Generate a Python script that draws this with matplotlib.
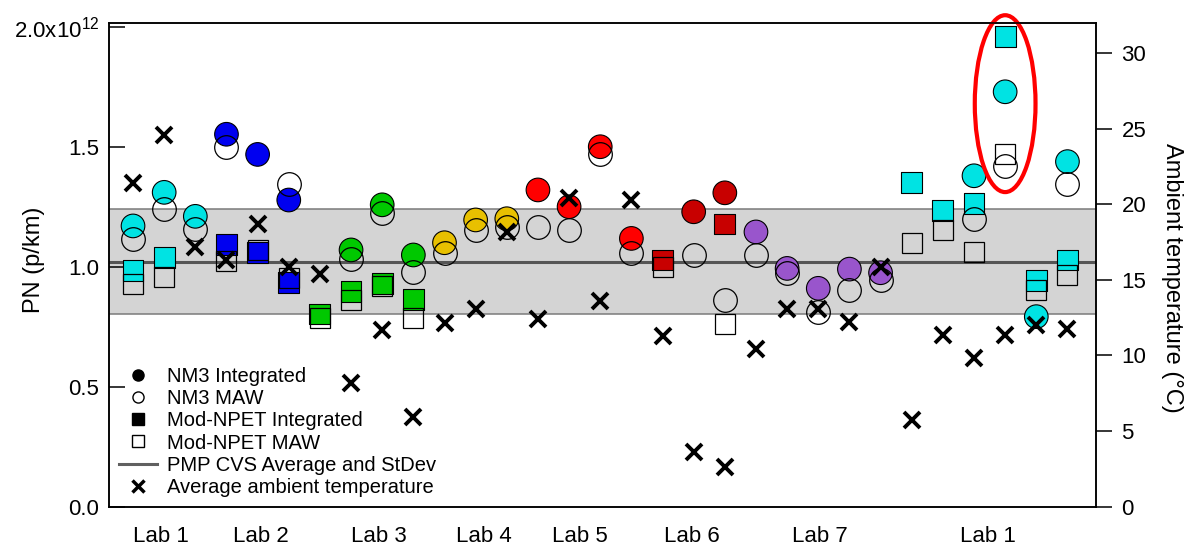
import numpy as np
import matplotlib
matplotlib.use('Agg')
import matplotlib.pyplot as plt
from matplotlib.lines import Line2D
from matplotlib.patches import Ellipse

plt.rcParams['font.family'] = ['Liberation Sans', 'DejaVu Sans']
plt.rcParams['mathtext.fontset'] = 'custom'
plt.rcParams['mathtext.rm'] = 'Liberation Sans'
plt.rcParams['mathtext.it'] = 'Liberation Sans:italic'
plt.rcParams['mathtext.bf'] = 'Liberation Sans:bold'

nan = np.nan

# ---------------- data (PN in units of 1e12 p/km, temperature in degC) ----------------
run_lab = (['Lab 1'] * 3 + ['Lab 2'] * 3 + ['Lab 3'] * 4 + ['Lab 4'] * 3 +
           ['Lab 5'] * 4 + ['Lab 6'] * 3 + ['Lab 7'] * 5 + ['Lab 1'] * 6)

nm3_integrated = [1.17, 1.31, 1.21, 1.552, 1.468, 1.278, nan, 1.07, 1.258, 1.049,
                  1.10, 1.195, 1.20, 1.32, 1.25, 1.50, 1.118, nan, 1.229, 1.308,
                  1.145, 0.993, 0.91, 0.99, 0.975, nan, nan, 1.379, 1.729, 0.792, 1.438]
nm3_maw = [1.115, 1.239, 1.156, 1.50, nan, 1.343, nan, 1.031, 1.222, 0.979,
           1.056, 1.153, 1.167, 1.167, 1.153, 1.47, 1.056, nan, 1.049, 0.861,
           1.049, 0.972, 0.8125, 0.905, 0.945, nan, nan, 1.20, 1.421, nan, 1.343]
modnpet_integrated = [0.986, 1.038, nan, 1.093, 1.058, 0.934, 0.803, 0.897, 0.931, 0.864,
                      nan, nan, nan, nan, nan, nan, nan, 1.028, nan, 1.178,
                      nan, nan, nan, nan, nan, 1.35, 1.236, 1.264, 1.958, 0.944, 1.028]
modnpet_maw = [0.927, 0.958, nan, 1.025, 1.07, 0.953, 0.786, 0.862, 0.918, 0.786,
               nan, nan, nan, nan, nan, nan, nan, 0.999, nan, 0.76,
               nan, nan, nan, nan, nan, 1.097, 1.153, 1.062, 1.47, 0.903, 0.965]
ambient_temp = [21.4, 24.57, 17.18, 16.3, 18.7, 15.86, 15.4, 8.15, 11.68, 5.95,
                12.12, 13.1, 18.17, 12.38, 20.38, 13.6, 20.27, 11.28, 3.63, 2.64,
                10.4, 13.1, 13.1, 12.2, 15.86, 5.73, 11.35, 9.81, 11.35, 12.0, 11.72]

pmp_cvs_average = 1.021
pmp_cvs_stdev = 0.2185

lab_labels = ['Lab 1', 'Lab 2', 'Lab 3', 'Lab 4', 'Lab 5', 'Lab 6', 'Lab 7', 'Lab 1']
lab_label_pos = [1.9, 5.1, 8.9, 12.25, 15.35, 18.95, 23.05, 28.45]

highlight_run = 29  # circled run

pn_ticks = [0.0, 0.5, 1.0, 1.5, 2.0]
pn_tick_labels = ['0.0', '0.5', '1.0', '1.5', r'2.0x10$^{12}$']
temp_ticks = [0, 5, 10, 15, 20, 25, 30]

# ---------------- styles ----------------
lab_colors = {'Lab 1': '#00E3E3', 'Lab 2': '#0000F0', 'Lab 3': '#00C800',
              'Lab 4': '#E8C000', 'Lab 5': '#FF0000', 'Lab 6': '#C80000',
              'Lab 7': '#9955CC'}

SCALE = 1e12
x = np.arange(1, len(run_lab) + 1)
colors = [lab_colors[l] for l in run_lab]

fig = plt.figure(figsize=(11.84, 5.49), dpi=100)
ax = fig.add_axes([0.0921, 0.0770, 0.8334, 0.8816])

# PMP CVS band
lo = (pmp_cvs_average - pmp_cvs_stdev) * SCALE
hi = (pmp_cvs_average + pmp_cvs_stdev) * SCALE
ax.axhspan(lo, hi, facecolor='#d4d4d4', edgecolor='none', zorder=0)
ax.axhline(lo, color='#7a7a7a', lw=1.1, zorder=1)
ax.axhline(hi, color='#7a7a7a', lw=1.1, zorder=1)
ax.axhline(pmp_cvs_average * SCALE, color='#555555', lw=2.2, zorder=1)

circ_ms = 17
sq_ms = 15

nm3i = np.array(nm3_integrated) * SCALE
nm3m = np.array(nm3_maw) * SCALE
modi = np.array(modnpet_integrated) * SCALE
modm = np.array(modnpet_maw) * SCALE

ax.scatter(x, modi, s=sq_ms ** 2, marker='s', c=colors, edgecolors='black',
           linewidths=0.8, zorder=3)
ax.scatter(x, nm3i, s=circ_ms ** 2, marker='o', c=colors, edgecolors='black',
           linewidths=0.8, zorder=3)
ax.plot(x, modm, linestyle='none', marker='s', markersize=sq_ms, mfc='none',
        mec='black', mew=0.9, zorder=4)
ax.plot(x, nm3m, linestyle='none', marker='o', markersize=circ_ms, mfc='none',
        mec='black', mew=0.9, zorder=4)

# highlight ellipse around the circled run
i = highlight_run - 1
vals = [v for v in (nm3i[i], nm3m[i], modi[i], modm[i]) if not np.isnan(v)]
yc = (max(vals) + min(vals)) / 2 - 0.01 * SCALE
ell = Ellipse((x[i], yc), width=1.95, height=(max(vals) - min(vals)) + 0.2 * SCALE,
              fill=False, edgecolor='#FF0000', lw=3, zorder=10, clip_on=False)
ax.add_patch(ell)

ax.set_xlim(0.23, 31.91)
ax.set_ylim(0, 2.0167 * SCALE)
ax.set_yticks([t * SCALE for t in pn_ticks])
ax.set_yticklabels(pn_tick_labels)
ax.set_xticks(lab_label_pos)
ax.set_xticklabels(lab_labels)
ax.tick_params(axis='x', length=0, pad=14, labelsize=16)
ax.tick_params(axis='y', direction='in', length=11.5, width=1.1, pad=7, labelsize=16)
for sp in ax.spines.values():
    sp.set_linewidth(1.1)
ax.set_ylabel('PN (p/km)', fontsize=17, va='center')
ax.yaxis.set_label_coords(-0.076, 0.51)

# temperature axis
ax2 = ax.twinx()
ax2.plot(x, ambient_temp, linestyle='none', marker='x', markersize=12,
         mew=2.8, color='black', zorder=5)
ax2.set_ylim(0, 32)
ax2.set_yticks(temp_ticks)
ax2.tick_params(axis='y', direction='out', length=11.5, width=1.1, pad=7, labelsize=16)
for sp in ax2.spines.values():
    sp.set_linewidth(1.1)
ax2.set_ylabel('Ambient temperature (°C)', fontsize=17, rotation=270, va='center')
ax2.yaxis.set_label_coords(1.0775, 0.4725)

# legend
handles = [
    Line2D([], [], linestyle='none', marker='o', markersize=8, mfc='black', mec='black'),
    Line2D([], [], linestyle='none', marker='o', markersize=8, mfc='white', mec='black', mew=1),
    Line2D([], [], linestyle='none', marker='s', markersize=8, mfc='black', mec='black'),
    Line2D([], [], linestyle='none', marker='s', markersize=8, mfc='white', mec='black', mew=1),
    Line2D([], [], color='#606060', lw=2.2),
    Line2D([], [], linestyle='none', marker='x', markersize=9, mew=2.5, color='black'),
]
labels = ['NM3 Integrated', 'NM3 MAW', 'Mod-NPET Integrated', 'Mod-NPET MAW',
          'PMP CVS Average and StDev', 'Average ambient temperature']
ax.legend(handles, labels, loc='upper left', bbox_to_anchor=(0.0101, 0.289),
          frameon=False, borderaxespad=0, borderpad=0, handlelength=1.9,
          handletextpad=0.5, labelspacing=0.16, fontsize=14.5)

fig.savefig('out.png', dpi=100)
